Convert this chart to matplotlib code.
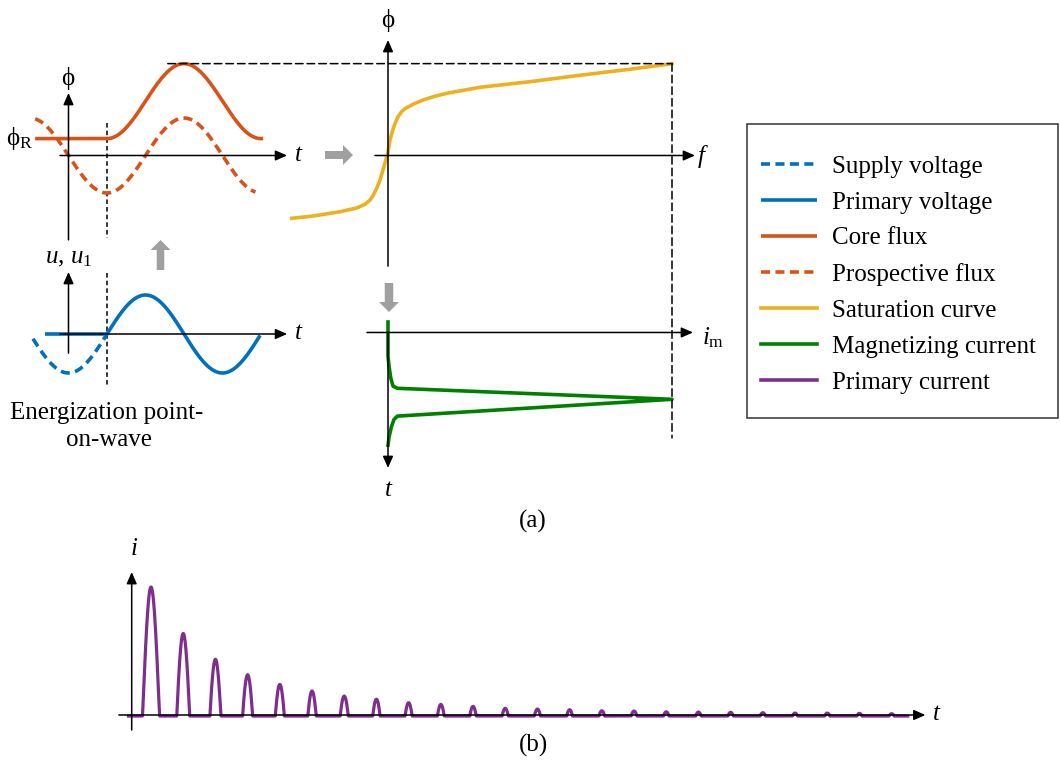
import numpy as np
import matplotlib
matplotlib.use("Agg")
import matplotlib.pyplot as plt
from matplotlib.patches import FancyArrow, Rectangle, ConnectionPatch

plt.rcParams['font.family'] = ['Liberation Serif', 'DejaVu Serif']
plt.rcParams['mathtext.fontset'] = 'custom'
plt.rcParams['mathtext.rm'] = 'Liberation Serif'
plt.rcParams['mathtext.it'] = 'Liberation Serif:italic'

W, H = 1060, 760

# ---------------- data ----------------
theta_energize = 90.0          # switching instant, electrical degrees
phi_remanent = 0.45            # residual flux (pu of prospective flux amplitude)
u_amp = 1.0                    # voltage amplitude (pu)
supply_span = (-83.0, 90.0)    # dashed supply voltage before switching
primary_span = (-55.0, 448.0)
prospective_span = (-78.0, 437.0)
core_span = (-78.0, 455.0)

# saturation curve: magnetizing force (pu of peak) vs flux (pu)
sat_f = [-0.339, -0.263, -0.169, -0.110, -0.081, -0.062, -0.052, -0.040, -0.028,
         -0.011, -0.001, 0.007, 0.016, 0.025, 0.035, 0.048, 0.062, 0.077, 0.098,
         0.124, 0.160, 0.207, 0.324, 0.500, 0.676, 0.852, 1.000]
sat_phi = [-1.675, -1.613, -1.499, -1.400, -1.300, -1.180, -1.060, -0.880, -0.653,
           -0.208, 0.059, 0.413, 0.660, 0.859, 1.030, 1.168, 1.260, 1.320, 1.400,
           1.480, 1.570, 1.659, 1.819, 1.968, 2.140, 2.300, 2.450]

# magnetizing current vs time (electrical degrees)
mag_theta = [90, 170, 195, 222, 240, 245, 270.7, 310, 318, 335, 358, 378]
mag_i = [0.0, 0.0, 0.004, 0.010, 0.018, 0.033, 1.0, 0.033, 0.021, 0.012, 0.004, 0.0]

# primary inrush current: one pulse per cycle
pulse_heights = [1.00, 0.64, 0.44, 0.32, 0.245, 0.194, 0.155, 0.13, 0.103, 0.09,
                 0.075, 0.06, 0.054, 0.049, 0.041, 0.039, 0.033, 0.031, 0.029,
                 0.026, 0.023, 0.023, 0.021, 0.018]
pulse_widths = [0.53, 0.40, 0.34, 0.31, 0.28, 0.26, 0.25, 0.23, 0.22, 0.21, 0.20,
                0.19, 0.19, 0.18, 0.18, 0.18, 0.17, 0.17, 0.17, 0.17, 0.16, 0.16,
                0.16, 0.16]
first_pulse = 0.6              # cycles
current_offset = -0.008

legend_labels = ["Supply voltage", "Primary voltage", "Core flux", "Prospective flux",
                 "Saturation curve", "Magnetizing current", "Primary current"]

BLUE = '#0072BD'
ORANGE = '#D95319'
YELLOW = '#EDB120'
GREEN = '#008000'
PURPLE = '#7E2F8E'
GRAY = '#A0A0A0'

LW = 2.6
DASH = (2.5, 1.5)
FS = 18
PHI = '\u03d5'

fig = plt.figure(figsize=(W / 100, H / 100), dpi=100)
fig.patch.set_facecolor('white')

overlay = fig.add_axes([0, 0, 1, 1])
overlay.set_xlim(0, W)
overlay.set_ylim(H, 0)
overlay.axis('off')


def panel(x0, y0, sx, sy, box):
    l, t, r, b = box
    ax = fig.add_axes([l / W, 1 - b / H, (r - l) / W, (b - t) / H])
    ax.set_xlim((l - x0) / sx, (r - x0) / sx)
    ax.set_ylim((y0 - b) / sy, (y0 - t) / sy)
    ax.axis('off')
    return ax


def axis_arrow(ax, start, end):
    ax.annotate('', xy=end, xytext=start, xycoords='data',
                arrowprops=dict(arrowstyle='-|>,head_length=0.5,head_width=0.22',
                                color='k', lw=1.1, mutation_scale=14,
                                shrinkA=0, shrinkB=0),
                annotation_clip=False)


def label(x, y, s, **kw):
    kw.setdefault('fontsize', FS)
    kw.setdefault('ha', 'center')
    kw.setdefault('va', 'center')
    overlay.text(x, y, s, **kw)


deg = 154.0 / 360.0
phi_peak = phi_remanent + 2 * u_amp

# ---------------- flux vs time ----------------
a1 = panel(68.5, 155.5, deg, 37.5, (0, 40, 320, 250))
axis_arrow(a1, (-20, 0), (511, 0))
axis_arrow(a1, (0, -2.25), (0, 1.667))
a1.plot([theta_energize] * 2, [0.87, -2.2], color='k', lw=1.1,
        dashes=(3.0, 2.0), clip_on=False)
th = np.linspace(*prospective_span, 600)
prosp, = a1.plot(th, -u_amp * np.sin(np.radians(th)), color=ORANGE, lw=LW,
                 dashes=DASH, clip_on=False, label=legend_labels[3])
th = np.linspace(*core_span, 800)
core = np.where(th < theta_energize, phi_remanent,
                phi_remanent + u_amp * (1 - np.sin(np.radians(th))))
core_line, = a1.plot(th, core, color=ORANGE, lw=LW, clip_on=False,
                     solid_capstyle='butt', label=legend_labels[2])

# ---------------- voltage vs time ----------------
a2 = panel(68.5, 334, deg, 39, (0, 250, 320, 400))
axis_arrow(a2, (-20, 0), (511, 0))
axis_arrow(a2, (0, -0.49), (0, 1.59))
a2.plot([theta_energize] * 2, [1.56, -1.36], color='k', lw=1.1,
        dashes=(3.0, 2.0), clip_on=False)
th = np.linspace(*supply_span, 400)
supply, = a2.plot(th, -u_amp * np.cos(np.radians(th)), color=BLUE, lw=LW,
                  dashes=DASH, clip_on=False, label=legend_labels[0])
th = np.linspace(*primary_span, 800)
prim = np.where(th < theta_energize, 0.0, -u_amp * np.cos(np.radians(th)))
primary, = a2.plot(th, prim, color=BLUE, lw=LW, clip_on=False,
                   solid_capstyle='butt', label=legend_labels[1])

# ---------------- saturation curve ----------------
a3 = panel(388, 155.5, 284, 37.5, (280, 0, 720, 280))
axis_arrow(a3, (-0.046, 0), (1.081, 0))
axis_arrow(a3, (0, -2.95), (0, 3.08))
sat, = a3.plot(sat_f, sat_phi, color=YELLOW, lw=LW, clip_on=False,
               solid_joinstyle='round', label=legend_labels[4])

# ---------------- magnetizing current vs time ----------------
a4 = panel(388, 283.5, 284, -deg, (350, 290, 720, 500))
t_axis = 114.5
axis_arrow(a4, (-0.074, t_axis), (1.074, t_axis))
axis_arrow(a4, (0, t_axis), (0, 431.3))
mag, = a4.plot(mag_i, mag_theta, color=GREEN, lw=LW, clip_on=False,
               solid_joinstyle='round', label=legend_labels[5])

# projection lines between the panels
for xyA, axA, xyB, axB in [((232.0, phi_peak), a1, (sat_f[-1], phi_peak), a3),
                           ((sat_f[-1], phi_peak), a3, (mag_i[6], 361.0), a4)]:
    cp = ConnectionPatch(xyA=xyA, coordsA=axA.transData, xyB=xyB,
                         coordsB=axB.transData, color='k', lw=1.1,
                         linestyle=(0, (5.0, 2.6)), zorder=1)
    fig.add_artist(cp)

# ---------------- primary current (b) ----------------
b = panel(131.7, 715, 32.2, 129, (100, 540, 960, 740))
axis_arrow(b, (-0.4, 0), (24.65, 0))
axis_arrow(b, (0, -0.116), (0, 1.108))
t = np.linspace(-0.1, 24.1, 8000)
i = np.full_like(t, current_offset)
for k, (h, w) in enumerate(zip(pulse_heights, pulse_widths)):
    d = 2 * np.pi * (t - (first_pulse + k))
    alpha = np.pi * w
    m = np.abs(d) < alpha
    i[m] += h * (np.cos(d[m]) - np.cos(alpha)) / (1 - np.cos(alpha))
pcur, = b.plot(t, i, color=PURPLE, lw=2.3, clip_on=False, zorder=1,
               solid_joinstyle='round', label=legend_labels[6])

# ---------------- block arrows ----------------
overlay.add_patch(FancyArrow(325, 155, 28, 0, width=8, head_width=20,
                             head_length=10, length_includes_head=True,
                             color=GRAY, lw=0))
overlay.add_patch(FancyArrow(160.5, 270, 0, -30, width=7.5, head_width=20,
                             head_length=10, length_includes_head=True,
                             color=GRAY, lw=0))
overlay.add_patch(FancyArrow(389, 283, 0, 29, width=8.5, head_width=20,
                             head_length=10, length_includes_head=True,
                             color=GRAY, lw=0))

# ---------------- labels ----------------
label(68, 79, PHI)
label(33, 139, PHI + '$_{\\mathrm{R}}$', ha='right')
label(299, 155, '$t$')
label(69, 258, '$u$, $u_1$')
label(299, 333, '$t$')
label(107, 413, 'Energization point-')
label(109, 440, 'on-wave')
label(388, 20, PHI)
label(703, 157, '$f$')
label(713, 338, '$i_{\\mathrm{m}}$')
label(389, 490, '$t$')
label(533, 521, '(a)')
label(134, 549, '$i$')
label(937, 714, '$t$')
label(533, 745, '(b)')

# ---------------- legend ----------------
overlay.add_patch(Rectangle((747, 124), 311, 294, fill=False, ec='#333333', lw=1.1))
handles = [supply, primary, core_line, prosp, sat, mag, pcur]
leg = fig.legend(handles, legend_labels, loc='upper left',
                 bbox_to_anchor=(761 / W, 1 - 155 / H), frameon=False,
                 fontsize=FS, handlelength=2.25, handletextpad=0.6,
                 labelspacing=0.54, borderpad=0, borderaxespad=0)
for ln in leg.get_lines():
    ln.set_linewidth(LW)

fig.savefig('out.png', dpi=100, facecolor='white')
